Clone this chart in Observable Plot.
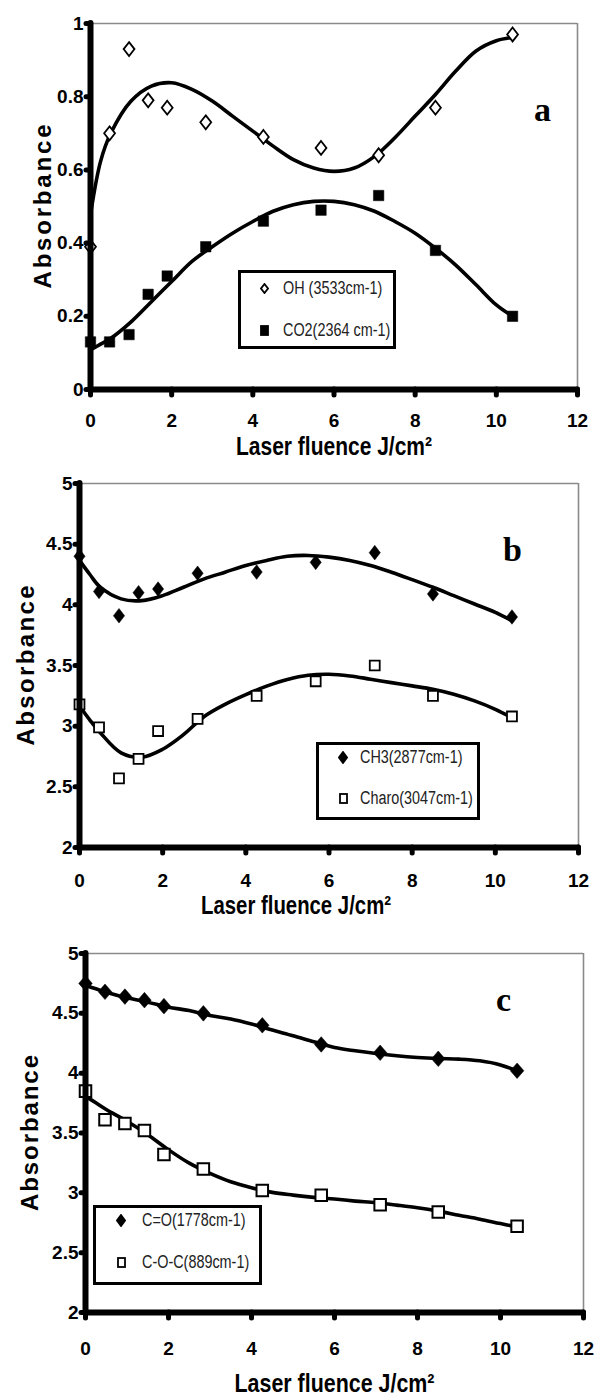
<!DOCTYPE html>
<html>
<head>
<meta charset="utf-8">
<script src="https://cdn.jsdelivr.net/npm/d3@7"></script>
<script src="https://cdn.jsdelivr.net/npm/@observablehq/plot@0.6"></script>
<style>
  body { margin: 0; background: #fff; }
  #root { position: relative; width: 594px; height: 1398px; background: #fff; overflow: hidden; }
  #root svg.panel { position: absolute; left: 0; }
  .legend { position: absolute; box-sizing: border-box; border: 3px solid #000; background: #fff; }
  .lrow { position: absolute; font-family: 'Liberation Sans', Arial, sans-serif; font-size: 18px; color: #222; white-space: nowrap; line-height: 18px; transform: scaleX(0.8); transform-origin: 0 50%; }
  .lmark { position: absolute; line-height: 0; }
</style>
</head>
<body>
<div id="root"></div>
<script>
// ---------- data ----------
const fluence = [0, 0.47, 0.95, 1.42, 1.89, 2.84, 4.26, 5.68, 7.1, 8.5, 10.4];
const ohAbs   = [0.39, 0.70, 0.93, 0.79, 0.77, 0.73, 0.69, 0.66, 0.64, 0.77, 0.97];
const co2Abs  = [0.13, 0.13, 0.15, 0.26, 0.31, 0.39, 0.46, 0.49, 0.53, 0.38, 0.20];
const ch3Abs  = [4.40, 4.11, 3.91, 4.10, 4.13, 4.26, 4.27, 4.35, 4.43, 4.09, 3.90];
const charoAbs= [3.18, 2.99, 2.57, 2.73, 2.96, 3.06, 3.25, 3.37, 3.50, 3.25, 3.08];
const coAbs   = [4.75, 4.68, 4.64, 4.61, 4.56, 4.50, 4.40, 4.24, 4.17, 4.12, 4.02];
const cocAbs  = [3.85, 3.61, 3.58, 3.52, 3.32, 3.20, 3.02, 2.98, 2.90, 2.84, 2.72];

// trend curves
const fitX     = [0, 0.25, 0.5, 1, 1.5, 2, 2.5, 3, 3.5, 4, 4.5, 5, 5.5, 6, 6.5, 7, 7.5, 8, 8.5, 9, 9.5, 10, 10.4];
const ohFit    = [0.478, 0.624, 0.70, 0.788, 0.829, 0.838, 0.82, 0.788, 0.747, 0.706, 0.665, 0.628, 0.605, 0.596, 0.605, 0.637, 0.688, 0.747, 0.806, 0.870, 0.925, 0.953, 0.962];
const co2Fit   = [0.108, 0.124, 0.14, 0.185, 0.24, 0.295, 0.35, 0.39, 0.427, 0.459, 0.487, 0.505, 0.514, 0.514, 0.505, 0.487, 0.459, 0.427, 0.386, 0.34, 0.286, 0.231, 0.2];
const ch3Fit   = [4.366, 4.25, 4.145, 4.049, 4.035, 4.076, 4.145, 4.214, 4.269, 4.324, 4.366, 4.40, 4.407, 4.393, 4.366, 4.324, 4.269, 4.208, 4.145, 4.076, 4.007, 3.938, 3.869];
const charoFit = [3.166, 3.05, 2.946, 2.78, 2.745, 2.81, 2.93, 3.08, 3.18, 3.26, 3.33, 3.385, 3.42, 3.428, 3.414, 3.387, 3.359, 3.332, 3.304, 3.263, 3.208, 3.139, 3.07];
const coFit    = [4.733, 4.705, 4.677, 4.63, 4.593, 4.551, 4.523, 4.481, 4.453, 4.411, 4.36, 4.313, 4.262, 4.215, 4.187, 4.164, 4.145, 4.131, 4.122, 4.117, 4.103, 4.069, 4.018];
const cocFit   = [3.808, 3.752, 3.696, 3.598, 3.486, 3.36, 3.248, 3.163, 3.093, 3.043, 3.004, 2.981, 2.962, 2.948, 2.931, 2.917, 2.897, 2.875, 2.847, 2.813, 2.78, 2.743, 2.715];

const seriesNames = ["OH (3533cm-1)", "CO2(2364 cm-1)", "CH3(2877cm-1)", "Charo(3047cm-1)", "C=O(1778cm-1)", "C-O-C(889cm-1)"];
const panelLetters = ["a", "b", "c"];
const xTicks = [0, 2, 4, 6, 8, 10, 12];
const yTicksA = [0, 0.2, 0.4, 0.6, 0.8, 1];
const yTicksBC = [2, 2.5, 3, 3.5, 4, 4.5, 5];
const xTitle = "Laser fluence J/cm²";
const yTitle = "Absorbance";

// ---------- styles ----------
const SANS = "'Liberation Sans', Arial, sans-serif";
const tallDiamond = (aspect) => ({
  draw(ctx, size) {
    const w = Math.sqrt(size / (2 * aspect));
    const h = w * aspect;
    ctx.moveTo(0, -h); ctx.lineTo(w, 0); ctx.lineTo(0, h); ctx.lineTo(-w, 0); ctx.closePath();
  }
});

const rows = (xs, ys) => xs.map((x, i) => ({x, y: ys[i]}));

function panel(o) {
  const marks = [
    Plot.ruleY([o.yDomain[1]], {stroke: "#8a8a8a", strokeWidth: 1.6}),
    Plot.ruleX([12], {stroke: "#8a8a8a", strokeWidth: 1.6}),
  ];
  for (const s of o.series) {
    marks.push(Plot.line(rows(fitX, s.fit), {x: "x", y: "y", curve: "catmull-rom", stroke: "#000", strokeWidth: 3.6}));
  }
  for (const s of o.series) {
    marks.push(Plot.dot(rows(fluence, s.values), {x: "x", y: "y", symbol: s.symbol, r: s.r, fill: s.fill, stroke: "#000", strokeWidth: s.sw}));
  }
  marks.push(
    Plot.axisY({ticks: o.yTicks, tickFormat: d => String(d), label: null, tickSize: 4, tickPadding: 3, strokeWidth: 5, strokeLinecap: "round", fontSize: 19, fontWeight: "bold", fontFamily: SANS, fill: "#000"}),
    Plot.axisX({ticks: xTicks, tickFormat: d => String(d), label: null, tickSize: 6, tickPadding: o.xPad, strokeWidth: 5, strokeLinecap: "round", fontSize: 19, fontWeight: "bold", fontFamily: SANS, fill: "#000"}),
    Plot.ruleX([0], {stroke: "#000", strokeWidth: 6, strokeLinecap: "round"}),
    Plot.ruleY([o.yDomain[0]], {stroke: "#000", strokeWidth: 6, strokeLinecap: "round"}),
    Plot.text([o.letter], {text: d => d, frameAnchor: "top-right", dx: o.letterDx, dy: o.letterDy, lineAnchor: "bottom", textAnchor: "middle", fontFamily: "'Liberation Serif', 'Times New Roman', serif", fontWeight: "bold", fontSize: 34, fill: "#000"}),
    Plot.text([xTitle], {text: d => d, frameAnchor: "bottom", dx: o.titleDx, dy: o.titleDy, lineAnchor: "bottom", textAnchor: "middle", fontFamily: SANS, fontWeight: "bold", fontSize: 25, fill: "#000"}),
    Plot.text([yTitle], {text: d => d, frameAnchor: "left", dx: o.absDx, rotate: -90, textAnchor: "middle", lineAnchor: "middle", fontFamily: SANS, fontWeight: "bold", fontSize: 24, fill: "#000"})
  );
  const svg = Plot.plot({
    width: 594, height: o.height,
    marginLeft: o.ml, marginRight: o.mr, marginTop: o.mt, marginBottom: o.mb,
    x: {domain: [0, 12]},
    y: {domain: o.yDomain},
    style: {background: "transparent", overflow: "visible"},
    marks
  });
  svg.classList.add("panel");
  svg.style.top = o.top + "px";
  svg.querySelectorAll("text").forEach(t => {
    if (t.textContent === yTitle) {
      t.setAttribute("textLength", o.absLen);
      t.setAttribute("lengthAdjust", "spacing");
    } else if (t.textContent === xTitle) {
      t.setAttribute("textLength", o.titleLen);
      t.setAttribute("lengthAdjust", "spacingAndGlyphs");
    }
  });
  return svg;
}

const root = document.getElementById("root");

root.appendChild(panel({
  top: 0, height: 460, mt: 23, mb: 71, ml: 90, mr: 17, yDomain: [0, 1], yTicks: yTicksA, xPad: 18,
  letter: panelLetters[0], letterDx: -35, letterDy: 97, titleDx: 0, titleDy: 65, absDx: -47,
  titleLen: 196, absLen: 164,
  series: [
    {values: ohAbs, fit: ohFit, symbol: tallDiamond(1.28), r: 4.9, fill: "#fff", sw: 1.8},
    {values: co2Abs, fit: co2Fit, symbol: "square", r: 5.9, fill: "#000", sw: 0.5}
  ]
}));

root.appendChild(panel({
  top: 460, height: 460, mt: 23, mb: 73, ml: 79, mr: 16, yDomain: [2, 5], yTicks: yTicksBC, xPad: 20,
  letter: panelLetters[1], letterDx: -66, letterDy: 77, titleDx: -33, titleDy: 66, absDx: -53,
  titleLen: 190, absLen: 160,
  series: [
    {values: ch3Abs, fit: ch3Fit, symbol: tallDiamond(1.3), r: 5.1, fill: "#000", sw: 0.5},
    {values: charoAbs, fit: charoFit, symbol: "square", r: 5.6, fill: "#fff", sw: 1.8}
  ]
}));

root.appendChild(panel({
  top: 920, height: 478, mt: 33, mb: 86, ml: 85, mr: 11, yDomain: [2, 5], yTicks: yTicksBC, xPad: 23,
  letter: panelLetters[2], letterDx: -80, letterDy: 57, titleDx: 0, titleDy: 79, absDx: -55,
  titleLen: 200, absLen: 156,
  series: [
    {values: coAbs, fit: coFit, symbol: tallDiamond(1.15), r: 5.8, fill: "#000", sw: 0.5},
    {values: cocAbs, fit: cocFit, symbol: "square", r: 6.5, fill: "#fff", sw: 2}
  ]
}));

// ---------- legends (HTML overlays) ----------
function markerSvg(kind, filled, size) {
  const w = size, h = Math.round(size * 1.25);
  let shape;
  if (kind === "diamond") {
    shape = `<path d="M${w/2},1 L${w-1},${h/2} L${w/2},${h-1} L1,${h/2} Z" fill="${filled ? "#000" : "#fff"}" stroke="#000" stroke-width="1.8"/>`;
  } else {
    shape = `<rect x="1" y="1" width="${w-2}" height="${h-2}" fill="${filled ? "#000" : "#fff"}" stroke="#000" stroke-width="1.8"/>`;
  }
  return `<svg width="${w}" height="${h}" viewBox="0 0 ${w} ${h}">${shape}</svg>`;
}

function legend(box, entries) {
  const div = document.createElement("div");
  div.className = "legend";
  div.style.left = box.x0 + "px";
  div.style.top = box.y0 + "px";
  div.style.width = (box.x1 - box.x0) + "px";
  div.style.height = (box.y1 - box.y0) + "px";
  root.appendChild(div);
  for (const e of entries) {
    const m = document.createElement("div");
    m.className = "lmark";
    m.innerHTML = markerSvg(e.kind, e.filled, e.size);
    const h = Math.round(e.size * 1.25);
    m.style.left = (e.mx - e.size / 2) + "px";
    m.style.top = (e.y - h / 2) + "px";
    root.appendChild(m);
    const t = document.createElement("div");
    t.className = "lrow";
    t.textContent = e.label;
    t.style.left = e.tx + "px";
    t.style.top = (e.y - 9) + "px";
    root.appendChild(t);
  }
}

legend({x0: 238, x1: 396, y0: 270, y1: 349}, [
  {label: seriesNames[0], kind: "diamond", filled: false, size: 9, mx: 264, tx: 283, y: 288},
  {label: seriesNames[1], kind: "square", filled: true, size: 9, mx: 264, tx: 283, y: 330}
]);
legend({x0: 316, x1: 480, y0: 742, y1: 820}, [
  {label: seriesNames[2], kind: "diamond", filled: true, size: 10, mx: 343, tx: 360, y: 757},
  {label: seriesNames[3], kind: "square", filled: false, size: 9, mx: 343, tx: 360, y: 798}
]);
legend({x0: 93, x1: 262, y0: 1205, y1: 1285}, [
  {label: seriesNames[4], kind: "diamond", filled: true, size: 10, mx: 121, tx: 142, y: 1220},
  {label: seriesNames[5], kind: "square", filled: false, size: 9, mx: 121, tx: 142, y: 1262}
]);
</script>
</body>
</html>
